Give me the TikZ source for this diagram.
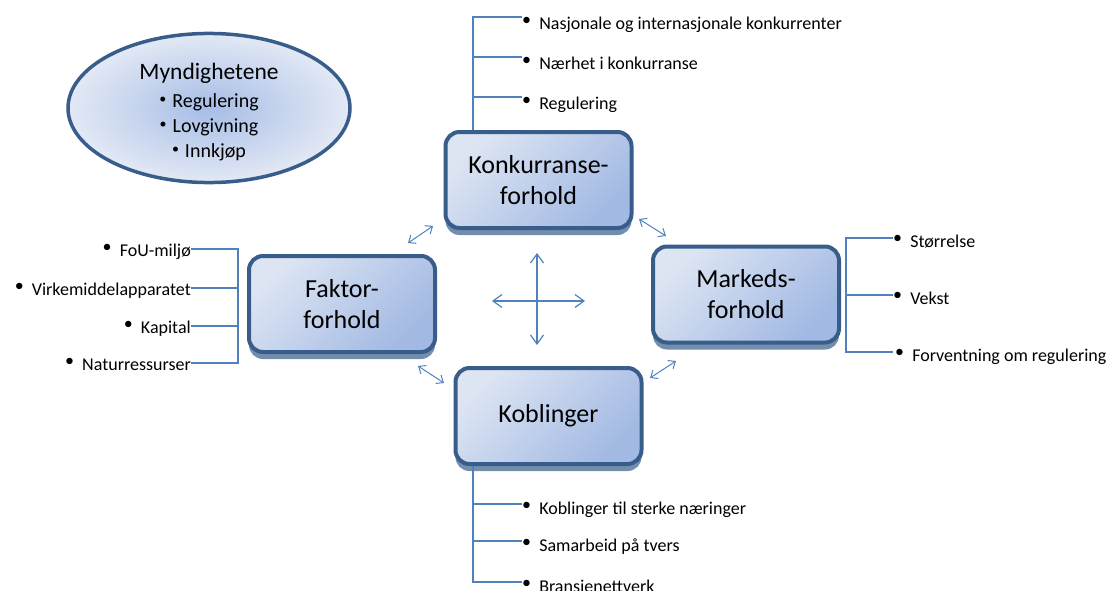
\documentclass[tikz,border=0pt]{standalone}
\usepackage{fontspec}
\setmainfont{Carlito}
\usepackage{graphicx}
\usetikzlibrary{arrows.meta,shapes.geometric,shadows}
\definecolor{brl}{HTML}{4F81BD}
\definecolor{bxb}{HTML}{385D8A}
\definecolor{bxl}{HTML}{DDE5F3}
\definecolor{bxd}{HTML}{A2B9E3}
\definecolor{ell}{HTML}{A6BDE6}
\definecolor{elo}{HTML}{E3E9F5}
\newcommand\itb{\raisebox{0.22em}{\textbullet}\hspace{0.45em}}
\newcommand\etb{\raisebox{0.18em}{\scalebox{0.7}{\textbullet}}\hspace{0.3em}}
\tikzset{
  boxnode/.style={draw=bxb, line width=4pt, rounded corners=14pt,
    minimum width=186pt, minimum height=96pt,
    top color=bxl, bottom color=bxd, shading angle=45,
    align=center, font=\fontsize{26}{31}\selectfont,
    drop shadow={shadow xshift=0pt, shadow yshift=-7pt, fill=bxb, opacity=0.7}},
  ellnode/.style={ellipse, draw=bxb, line width=3.5pt,
    minimum width=282pt, minimum height=142pt, inner sep=0pt,
    inner color=ell, outer color=elo, align=center,
    font=\fontsize{20}{25}\selectfont},
  item/.style={inner sep=0pt, font=\fontsize{18}{22}\selectfont},
  br/.style={draw=brl, line width=1.5pt},
  dar/.style={draw=brl, line width=1pt,
    arrows={Straight Barb[length=6pt,width=10pt]-Straight Barb[length=6pt,width=10pt]}},
  crs/.style={draw=brl, line width=1.2pt,
    arrows={Straight Barb[length=9pt,width=13pt]-Straight Barb[length=9pt,width=13pt]}}
}
\begin{document}
\begin{tikzpicture}[x=1pt,y=-1pt]
\useasboundingbox (0,0) rectangle (1115,590);
\clip (0,0) rectangle (1115,590);

% authority ellipse
\node[ellnode] (myn) at (209,108)
  {\rule{0pt}{24pt}{\fontsize{23.5}{25}\selectfont Myndighetene}\\[3pt]\etb Regulering\\\etb Lovgivning\\\etb Innkjøp};

% main boxes
\node[boxnode] (k)  at (538.5,180) {Konkurranse-\\forhold};
\node[boxnode] (f)  at (342,304)   {Faktor-\\forhold};
\node[boxnode] (m)  at (746,294.5) {Markeds-\\forhold};
\node[boxnode] (ko) at (548.5,416) {Koblinger};

% Konkurranseforhold items
\node[item, anchor=base west] (k1) at (522,29)  {\itb Nasjonale og internasjonale konkurrenter};
\node[item, anchor=base west] (k2) at (522,69)  {\itb Nærhet i konkurranse};
\node[item, anchor=base west] (k3) at (522,109) {\itb Regulering};
\coordinate (kx) at (473,0);
\draw[br] (k.north -| kx) |- ([yshift=12pt]k1.base west);
\draw[br] (k.north -| kx) |- ([yshift=12pt]k2.base west);
\draw[br] (k.north -| kx) |- ([yshift=12pt]k3.base west);

% Koblinger items
\node[item, anchor=base west] (ko1) at (522,514) {\itb Koblinger til sterke næringer};
\node[item, anchor=base west] (ko2) at (522,551) {\itb Samarbeid på tvers};
\node[item, anchor=base west] (ko3) at (522,592) {\itb Bransjenettverk};
\coordinate (kox) at (473,0);
\draw[br] (ko.south -| kox) |- ([yshift=10pt]ko1.base west);
\draw[br] (ko.south -| kox) |- ([yshift=10pt]ko2.base west);
\draw[br] (ko.south -| kox) |- ([yshift=10pt]ko3.base west);

% Markedsforhold items
\node[item, anchor=base west] (m1) at (893,247) {\itb Størrelse};
\node[item, anchor=base west] (m2) at (893,304) {\itb Vekst};
\node[item, anchor=base west] (m3) at (895,361) {\itb Forventning om regulering};
\draw[br] ([yshift=9pt]m1.base west) -- ++(-47,0) -- ++(0,114) -- ++(47,0);
\draw[br] ([yshift=9pt]m2.base west) -- ++(-47,0);

% Faktorforhold items
\node[item, anchor=base east] (f1) at (191,256) {\itb FoU-miljø};
\node[item, anchor=base east] (f2) at (191,295) {\itb Virkemiddelapparatet};
\node[item, anchor=base east] (f3) at (191,333) {\itb Kapital};
\node[item, anchor=base east] (f4) at (191,370) {\itb Naturressurser};
\draw[br] ([yshift=7pt]f1.base east) -- ++(47,0) -- ++(0,114) -- ([yshift=7pt]f4.base east);
\draw[br] ([yshift=7pt]f2.base east) -- ++(47,0);
\draw[br] ([yshift=7pt]f3.base east) -- ++(47,0);

% double arrows between boxes
\coordinate (a1s) at (408,243); \coordinate (a1e) at (433,226);
\coordinate (a2s) at (639,219); \coordinate (a2e) at (666,236);
\coordinate (a3s) at (418,366); \coordinate (a3e) at (444,383);
\coordinate (a4s) at (650,378); \coordinate (a4e) at (676,361);
\draw[dar] (a1s) -- (a1e);
\draw[dar] (a2s) -- (a2e);
\draw[dar] (a3s) -- (a3e);
\draw[dar] (a4s) -- (a4e);

% central cross
\coordinate (cl) at (492,301); \coordinate (cr) at (585,301);
\coordinate (ct) at (537,253); \coordinate (cb) at (537,345);
\draw[crs] (cl) -- (cr);
\draw[crs] (ct) -- (cb);
\end{tikzpicture}
\end{document}
